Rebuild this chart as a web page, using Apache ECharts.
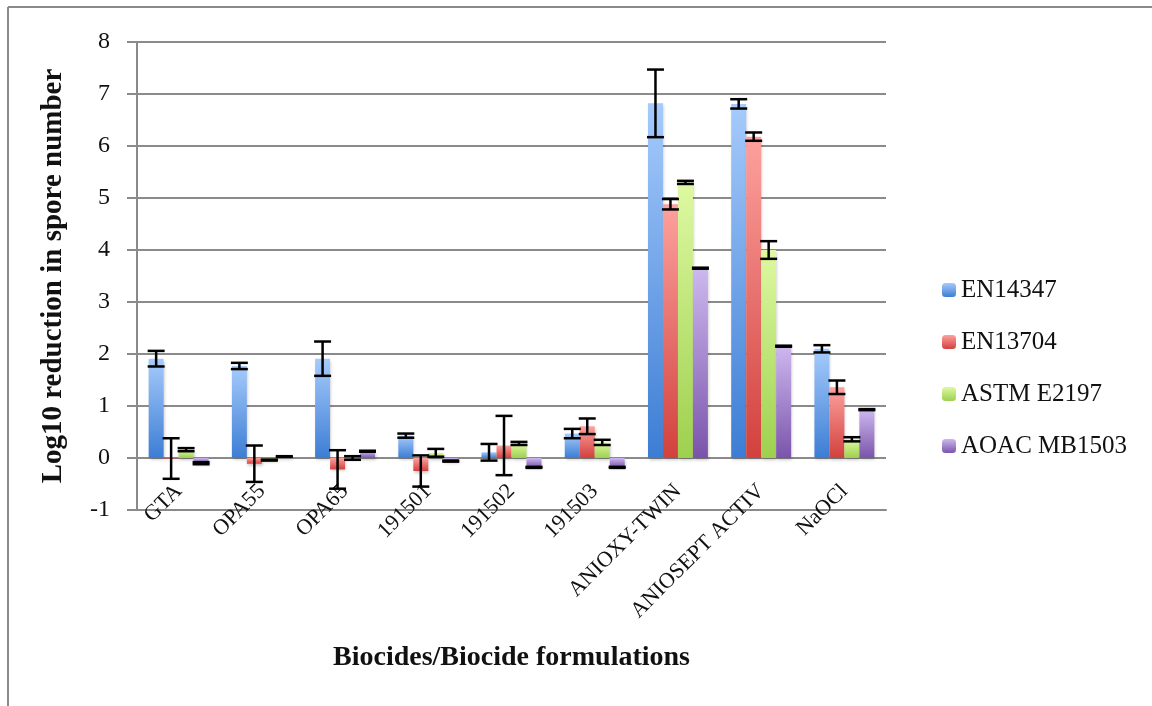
<!DOCTYPE html>
<html>
<head>
<meta charset="utf-8">
<script src="https://cdn.jsdelivr.net/npm/echarts@6/dist/echarts.min.js"></script>
<style>
html,body{margin:0;padding:0;background:#fff;}
#chart{width:1152px;height:706px;}
</style>
</head>
<body>
<div id="chart"></div>
<script>
const categories = ['GTA','OPA55','OPA65','191501','191502','191503','ANIOXY-TWIN','ANIOSEPT ACTIV','NaOCl'];
const seriesNames = ['EN14347','EN13704','ASTM E2197','AOAC MB1503'];
const en14347 = [1.91, 1.77, 1.91, 0.43, 0.11, 0.47, 6.82, 6.81, 2.10];
const en14347Err = [0.15, 0.06, 0.33, 0.04, 0.16, 0.09, 0.65, 0.09, 0.07];
const en13704 = [-0.01, -0.11, -0.22, -0.25, 0.24, 0.61, 4.88, 6.18, 1.36];
const en13704Err = [0.39, 0.35, 0.37, 0.30, 0.57, 0.15, 0.10, 0.08, 0.13];
const astmE2197 = [0.16, -0.04, 0.0, 0.10, 0.28, 0.30, 5.30, 4.00, 0.36];
const astmE2197Err = [0.03, 0.01, 0.035, 0.075, 0.03, 0.05, 0.03, 0.17, 0.04];
const aoacMB1503 = [-0.10, 0.03, 0.13, -0.06, -0.18, -0.18, 3.65, 2.15, 0.93];
const aoacMB1503Err = [0.02, 0.005, 0.01, 0.01, 0.01, 0.01, 0.01, 0.01, 0.01];
const yTicks = [-1, 0, 1, 2, 3, 4, 5, 6, 7, 8];

const values = [en14347, en13704, astmE2197, aoacMB1503];
const errors = [en14347Err, en13704Err, astmE2197Err, aoacMB1503Err];
const gradients = [
  ['#a6cbfc', '#3c7dd4'],
  ['#fda19e', '#d2413d'],
  ['#def9a2', '#9ed04e'],
  ['#cdb8ef', '#7a54aa']
];
const CAT_GAP = 0.28;
const FONT = '"Liberation Serif", "DejaVu Serif", serif';

const chart = echarts.init(document.getElementById('chart'));

const series = [];
values.forEach((vals, si) => {
  series.push({
    name: seriesNames[si],
    type: 'bar',
    data: vals,
    barGap: '0%',
    barCategoryGap: (CAT_GAP * 100) + '%',
    itemStyle: {
      color: new echarts.graphic.LinearGradient(0, 0, 0, 1, [
        {offset: 0, color: gradients[si][0]},
        {offset: 1, color: gradients[si][1]}
      ]),
      shadowColor: 'rgba(0,0,0,0.22)',
      shadowBlur: 3,
      shadowOffsetX: 1,
      shadowOffsetY: 2
    },
    z: 2
  });
});
values.forEach((vals, si) => {
  series.push({
    type: 'custom',
    z: 5,
    silent: true,
    data: vals.map((v, i) => [i, v, errors[si][i]]),
    renderItem: function (params, api) {
      const x = api.value(0), v = api.value(1), e = api.value(2);
      const band = api.size([1, 0])[0];
      const w = band * (1 - CAT_GAP) / 4;
      const c = api.coord([x, v]);
      const cx = c[0] + (si - 1.5) * w;
      const top = api.coord([x, v + e])[1];
      const bot = api.coord([x, v - e])[1];
      const half = w / 2 + 1;
      const st = {stroke: '#000', lineWidth: 2.5};
      return {
        type: 'group',
        children: [
          {type: 'line', shape: {x1: cx, y1: top, x2: cx, y2: bot}, style: st},
          {type: 'line', shape: {x1: cx - half, y1: top, x2: cx + half, y2: top}, style: st},
          {type: 'line', shape: {x1: cx - half, y1: bot, x2: cx + half, y2: bot}, style: st}
        ]
      };
    }
  });
});

chart.setOption({
  animation: false,
  backgroundColor: '#fff',
  grid: {left: 137, right: 266, top: 42, bottom: 196, containLabel: false, outerBoundsMode: 'none'},
  legend: {
    orient: 'vertical',
    left: 937,
    top: 270,
    itemWidth: 14,
    itemHeight: 14,
    itemGap: 22,
    data: seriesNames,
    textStyle: {fontFamily: FONT, fontSize: 25, color: '#111', lineHeight: 30}
  },
  xAxis: {
    type: 'category',
    data: categories,
    axisLine: {onZero: false, lineStyle: {color: '#8a8a8a', width: 2}},
    axisTick: {show: false},
    axisLabel: {rotate: 45, margin: -22, fontFamily: FONT, fontSize: 22, color: '#111', interval: 0},
    name: 'Biocides/Biocide formulations',
    nameLocation: 'middle',
    nameGap: 134,
    nameTextStyle: {fontFamily: FONT, fontSize: 28, fontWeight: 'bold', color: '#111'}
  },
  yAxis: {
    type: 'value',
    min: yTicks[0],
    max: yTicks[yTicks.length - 1],
    interval: 1,
    axisLine: {show: true, lineStyle: {color: '#8a8a8a', width: 2}},
    axisTick: {show: true, length: 10, lineStyle: {color: '#8a8a8a', width: 2}},
    axisLabel: {margin: 27, fontFamily: FONT, fontSize: 24, color: '#111'},
    splitLine: {show: true, lineStyle: {color: '#8a8a8a', width: 2}},
    name: 'Log10 reduction in spore number',
    nameLocation: 'middle',
    nameRotate: 90,
    nameGap: 69,
    nameTextStyle: {fontFamily: FONT, fontSize: 29, fontWeight: 'bold', color: '#111'}
  },
  graphic: [
    {type: 'line', shape: {x1: 8, y1: 7, x2: 1152, y2: 7}, style: {stroke: '#8a8a8a', lineWidth: 2}},
    {type: 'line', shape: {x1: 8, y1: 7, x2: 8, y2: 706}, style: {stroke: '#8a8a8a', lineWidth: 2}}
  ],
  series: series
});
</script>
</body>
</html>
